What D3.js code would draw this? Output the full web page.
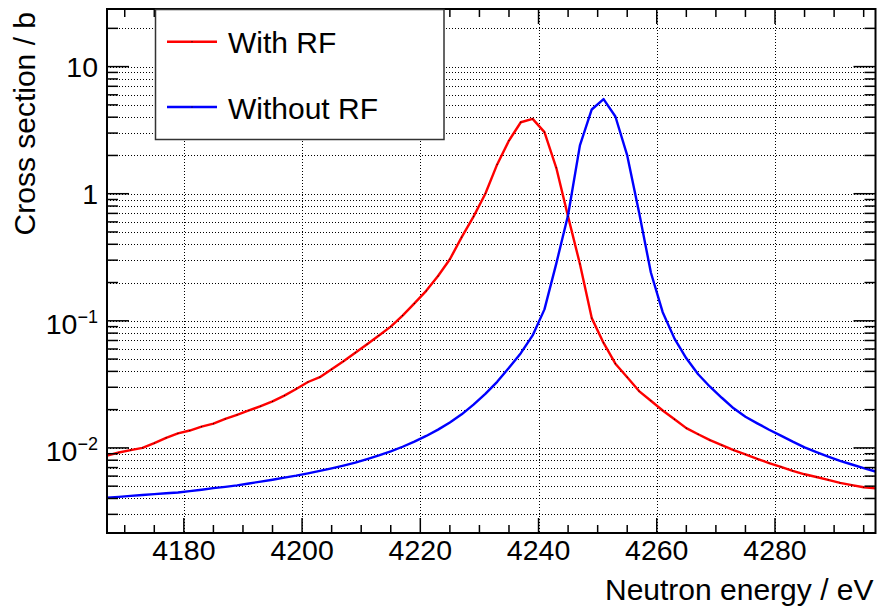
<!DOCTYPE html>
<html>
<head>
<meta charset="utf-8">
<script src="https://cdn.jsdelivr.net/npm/d3@7"></script>
<style>
  body { margin: 0; background: #fff; }
  text { font-family: "Liberation Sans", Arial, Helvetica, sans-serif; fill: #000; }
</style>
</head>
<body>
<div id="chart"></div>
<script>
// energies in eV (both graphs are sampled on the same points)
var energies = [4167, 4169, 4171, 4173, 4175, 4177, 4179, 4181, 4183, 4185, 4187, 4189, 4191, 4193, 4195,
  4197, 4199, 4201, 4203, 4205, 4207, 4209, 4211, 4213, 4215, 4217, 4219, 4221, 4223, 4225, 4227,
  4229, 4231, 4233, 4235, 4237, 4239, 4241, 4243, 4245, 4247, 4249, 4251, 4253, 4255, 4257, 4259,
  4261, 4263, 4265, 4267, 4269, 4271, 4273, 4275, 4277, 4279, 4281, 4283, 4285, 4287, 4289, 4291,
  4293, 4295, 4297];

// cross section in barn, with RF
var with_rf = [0.0087, 0.0092, 0.0096, 0.0100, 0.0109, 0.0120, 0.0130, 0.0137, 0.0147, 0.0155, 0.0169,
  0.0182, 0.0197, 0.0213, 0.0232, 0.0258, 0.0291, 0.0330, 0.0360, 0.0415, 0.0480, 0.0560, 0.0655,
  0.0765, 0.0900, 0.110, 0.137, 0.172, 0.225, 0.305, 0.455, 0.660, 1.00, 1.70, 2.62, 3.65, 3.88,
  3.05, 1.60, 0.66, 0.28, 0.105, 0.067, 0.046, 0.036, 0.028, 0.0235, 0.0197, 0.0168, 0.0143,
  0.0128, 0.0115, 0.0105, 0.0096, 0.0089, 0.0082, 0.0076, 0.0071, 0.0066, 0.0062, 0.0059, 0.0056,
  0.0053, 0.0051, 0.0049, 0.0048];

// cross section in barn, without RF
var without_rf = [0.00406, 0.00412, 0.00419, 0.00426, 0.00433, 0.00440, 0.00446, 0.00457, 0.00469,
  0.00482, 0.00494, 0.00507, 0.00525, 0.00543, 0.00562, 0.00583, 0.00605, 0.00631, 0.00659, 0.00690,
  0.00726, 0.00767, 0.00817, 0.00873, 0.00940, 0.01021, 0.01119, 0.01242, 0.01393, 0.01585, 0.01837,
  0.02188, 0.02661, 0.0331, 0.0427, 0.0556, 0.0767, 0.123, 0.282, 0.680, 2.40, 4.60, 5.55, 4.05,
  2.00, 0.715, 0.240, 0.117, 0.0724, 0.0507, 0.0380, 0.0303, 0.0248, 0.0205, 0.0176, 0.0156,
  0.0139, 0.0125, 0.0112, 0.0101, 0.00927, 0.00855, 0.00791, 0.00740, 0.00693, 0.00652];

var x_domain = [4167, 4297],
    y_domain = [0.00214, 28.4];

var x_major = [4180, 4200, 4220, 4240, 4260, 4280];
var y_major = [0.01, 0.1, 1, 10];
var y_labels = [["10", "\u22122"], ["10", "\u22121"], ["1", ""], ["10", ""]];

var series_names = ["With RF", "Without RF"],
    series_colors = ["#ff0000", "#0000ff"];

var width = 879, height = 608;
var frame = {left: 107, right: 875.5, top: 9, bottom: 533};

var svg = d3.select("#chart").append("svg")
    .attr("width", width)
    .attr("height", height);

var x = d3.scaleLinear().domain(x_domain).range([frame.left, frame.right]);
var y = d3.scaleLog().domain(y_domain).range([frame.bottom, frame.top]);

var x_minor = x.ticks(26).filter(function(d) { return x_major.indexOf(d) < 0; });
var y_all = y.ticks().filter(function(d) { return d >= y_domain[0] && d <= y_domain[1]; });
var y_minor = y_all.filter(function(d) { return y_major.indexOf(d) < 0; });

// dotted grid
var g_grid = svg.append("g")
    .attr("stroke", "#000")
    .attr("stroke-width", 1)
    .attr("stroke-dasharray", "1,2");

g_grid.selectAll(".hgrid").data(y_all).enter().append("line")
    .attr("x1", frame.left)
    .attr("x2", frame.right)
    .attr("y1", function(d) { return Math.round(y(d)) + 0.5; })
    .attr("y2", function(d) { return Math.round(y(d)) + 0.5; });

g_grid.selectAll(".vgrid").data(x_major).enter().append("line")
    .attr("x1", function(d) { return Math.round(x(d)) + 0.5; })
    .attr("x2", function(d) { return Math.round(x(d)) + 0.5; })
    .attr("y1", frame.top)
    .attr("y2", frame.bottom);

// curves
var line = d3.line()
    .x(function(d) { return x(d[0]); })
    .y(function(d) { return y(d[1]); });

var series = [with_rf, without_rf].map(function(vals) {
  return energies.map(function(e, i) { return [e, vals[i]]; });
});

series.forEach(function(pts, i) {
  svg.append("path")
    .datum(pts)
    .attr("fill", "none")
    .attr("stroke", series_colors[i])
    .attr("stroke-width", 2.4)
    .attr("stroke-linejoin", "round")
    .attr("d", line);
});

// tiny black markers on the red graph
svg.append("g").selectAll("rect").data(series[0]).enter().append("rect")
    .attr("x", function(d) { return x(d[0]) - 0.5; })
    .attr("y", function(d) { return y(d[1]) - 0.5; })
    .attr("width", 1)
    .attr("height", 1)
    .attr("fill", "#000");

// frame
svg.append("rect")
    .attr("x", frame.left)
    .attr("y", frame.top)
    .attr("width", frame.right - frame.left)
    .attr("height", frame.bottom - frame.top)
    .attr("fill", "none")
    .attr("stroke", "#000")
    .attr("stroke-width", 2);

// tick marks on all four sides
function draw_ticks(vals, len, horiz) {
  var g = svg.append("g").attr("stroke", "#000").attr("stroke-width", 1.5);
  vals.forEach(function(d) {
    if (horiz) {
      var xx = x(d);
      g.append("line").attr("x1", xx).attr("x2", xx).attr("y1", frame.bottom).attr("y2", frame.bottom - len);
      g.append("line").attr("x1", xx).attr("x2", xx).attr("y1", frame.top).attr("y2", frame.top + len);
    } else {
      var yy = y(d);
      g.append("line").attr("y1", yy).attr("y2", yy).attr("x1", frame.left).attr("x2", frame.left + len);
      g.append("line").attr("y1", yy).attr("y2", yy).attr("x1", frame.right).attr("x2", frame.right - len);
    }
  });
}
draw_ticks(x_major, 15, true);
draw_ticks(x_minor, 8, true);
draw_ticks(y_major, 22, false);
draw_ticks(y_minor, 11, false);

// x tick labels
svg.append("g").selectAll("text").data(x_major).enter().append("text")
    .attr("x", function(d) { return x(d); })
    .attr("y", 560)
    .attr("text-anchor", "middle")
    .attr("font-size", 28.5)
    .text(function(d) { return d; });

// y tick labels, 10^n style
y_major.forEach(function(d, i) {
  var t = svg.append("text")
      .attr("x", 98)
      .attr("y", y(d) + (y_labels[i][1] ? 13.5 : 10.5))
      .attr("text-anchor", "end")
      .attr("font-size", 28.5);
  t.append("tspan").text(y_labels[i][0]);
  if (y_labels[i][1]) {
    t.append("tspan")
      .attr("font-size", 18)
      .attr("dy", -11)
      .text(y_labels[i][1]);
  }
});

// axis titles
svg.append("text")
    .attr("x", frame.right - 2)
    .attr("y", 600)
    .attr("text-anchor", "end")
    .attr("font-size", 30)
    .text("Neutron energy / eV");

svg.append("text")
    .attr("transform", "translate(35," + (frame.top + 3) + ") rotate(-90)")
    .attr("text-anchor", "end")
    .attr("font-size", 30)
    .text("Cross section / b");

// legend
var g_leg = svg.append("g");
g_leg.append("rect")
    .attr("x", 155.5)
    .attr("y", 9.5)
    .attr("width", 288.5)
    .attr("height", 130)
    .attr("fill", "#fff")
    .attr("stroke", "#333")
    .attr("stroke-width", 1.5);

series_names.forEach(function(name, i) {
  var ly = 41.7 + i * 65.3;
  g_leg.append("line")
    .attr("x1", 167).attr("x2", 217)
    .attr("y1", ly).attr("y2", ly)
    .attr("stroke", series_colors[i])
    .attr("stroke-width", 2.4);
  g_leg.append("rect")
    .attr("x", 191.5).attr("y", ly - 0.5)
    .attr("width", 1).attr("height", 1)
    .attr("fill", "#000");
  g_leg.append("text")
    .attr("x", 228)
    .attr("y", ly + 11.5)
    .attr("font-size", 30)
    .text(name);
});
</script>
</body>
</html>
